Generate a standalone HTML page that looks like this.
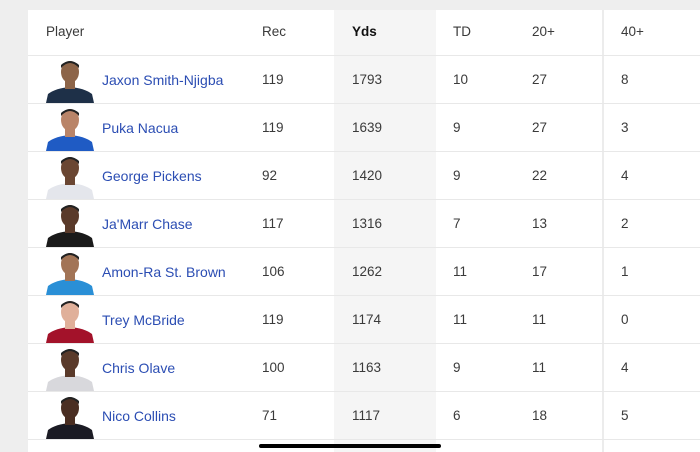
<!DOCTYPE html>
<html><head><style>
body{margin:0;width:700px;height:452px;background:#eeeeee;position:relative;overflow:hidden;font-family:"Liberation Sans",Arial,sans-serif;}
#t{position:absolute;left:28px;top:10px;width:672px;height:442px;background:#fff;}
.shade{position:absolute;left:306px;top:0;width:102px;height:442px;background:#f5f5f5;}
.vl{position:absolute;left:574px;top:0;width:2px;height:442px;background:#ececec;}
.hl{position:absolute;left:0;width:672px;height:1px;background:#e8e8e8;}
.tx{position:absolute;font-size:13.5px;color:#3a3a3a;line-height:16px;}
.nm{color:#2b4db3;font-size:14px;}
.b{font-weight:bold;color:#111;}
.bar{position:absolute;left:259px;top:444px;width:182px;height:4px;border-radius:2px;background:#000;}
</style></head><body>
<div id="t">
<div class="shade"></div><div class="vl"></div>
<div class="tx" style="left:18px;top:14px">Player</div>
<div class="tx" style="left:234px;top:14px">Rec</div>
<div class="tx b" style="left:324px;top:14px">Yds</div>
<div class="tx" style="left:425px;top:14px">TD</div>
<div class="tx" style="left:504px;top:14px">20+</div>
<div class="tx" style="left:593px;top:14px">40+</div>
<div id="rows"></div>
</div>
<div class="bar"></div>
<script>
var d=[["Jaxon Smith-Njigba",119,1793,10,27,8,"#8c6448","#1e3048"],
["Puka Nacua",119,1639,9,27,3,"#b98468","#1f5bc4"],
["George Pickens",92,1420,9,22,4,"#6a4632","#e4e6ec"],
["Ja'Marr Chase",117,1316,7,13,2,"#5a3a2a","#1a1a1a"],
["Amon-Ra St. Brown",106,1262,11,17,1,"#a27456","#2a8fd6"],
["Trey McBride",119,1174,11,11,0,"#e0b09a","#a3122a"],
["Chris Olave",100,1163,9,11,4,"#5a3a2a","#d8d8dc"],
["Nico Collins",71,1117,6,18,5,"#4a2e22","#1b1b24"]];
var h="";
d.forEach(function(r,i){var y=45+i*48;
h+='<div class="hl" style="top:'+y+'px"></div>';
h+='<svg style="position:absolute;left:18px;top:'+(y+1)+'px" width="48" height="47"><path d="M0 47 L2 38 Q10 32 24 31 Q38 32 46 38 L48 47Z" fill="'+r[7]+'"/><rect x="19" y="24" width="10" height="9" fill="'+r[6]+'"/><ellipse cx="24" cy="16" rx="9" ry="11" fill="'+r[6]+'"/><path d="M15 12 Q24 2 33 12 L33 9 Q24 1 15 9Z" fill="#222"/></svg>';
var ty=y+17;
h+='<div class="tx nm" style="left:74px;top:'+ty+'px">'+r[0]+'</div>';
h+='<div class="tx" style="left:234px;top:'+ty+'px">'+r[1]+'</div>';
h+='<div class="tx" style="left:324px;top:'+ty+'px">'+r[2]+'</div>';
h+='<div class="tx" style="left:425px;top:'+ty+'px">'+r[3]+'</div>';
h+='<div class="tx" style="left:504px;top:'+ty+'px">'+r[4]+'</div>';
h+='<div class="tx" style="left:593px;top:'+ty+'px">'+r[5]+'</div>';});
h+='<div class="hl" style="top:429px"></div>';
document.getElementById("rows").innerHTML=h;
</script>
</body></html>
